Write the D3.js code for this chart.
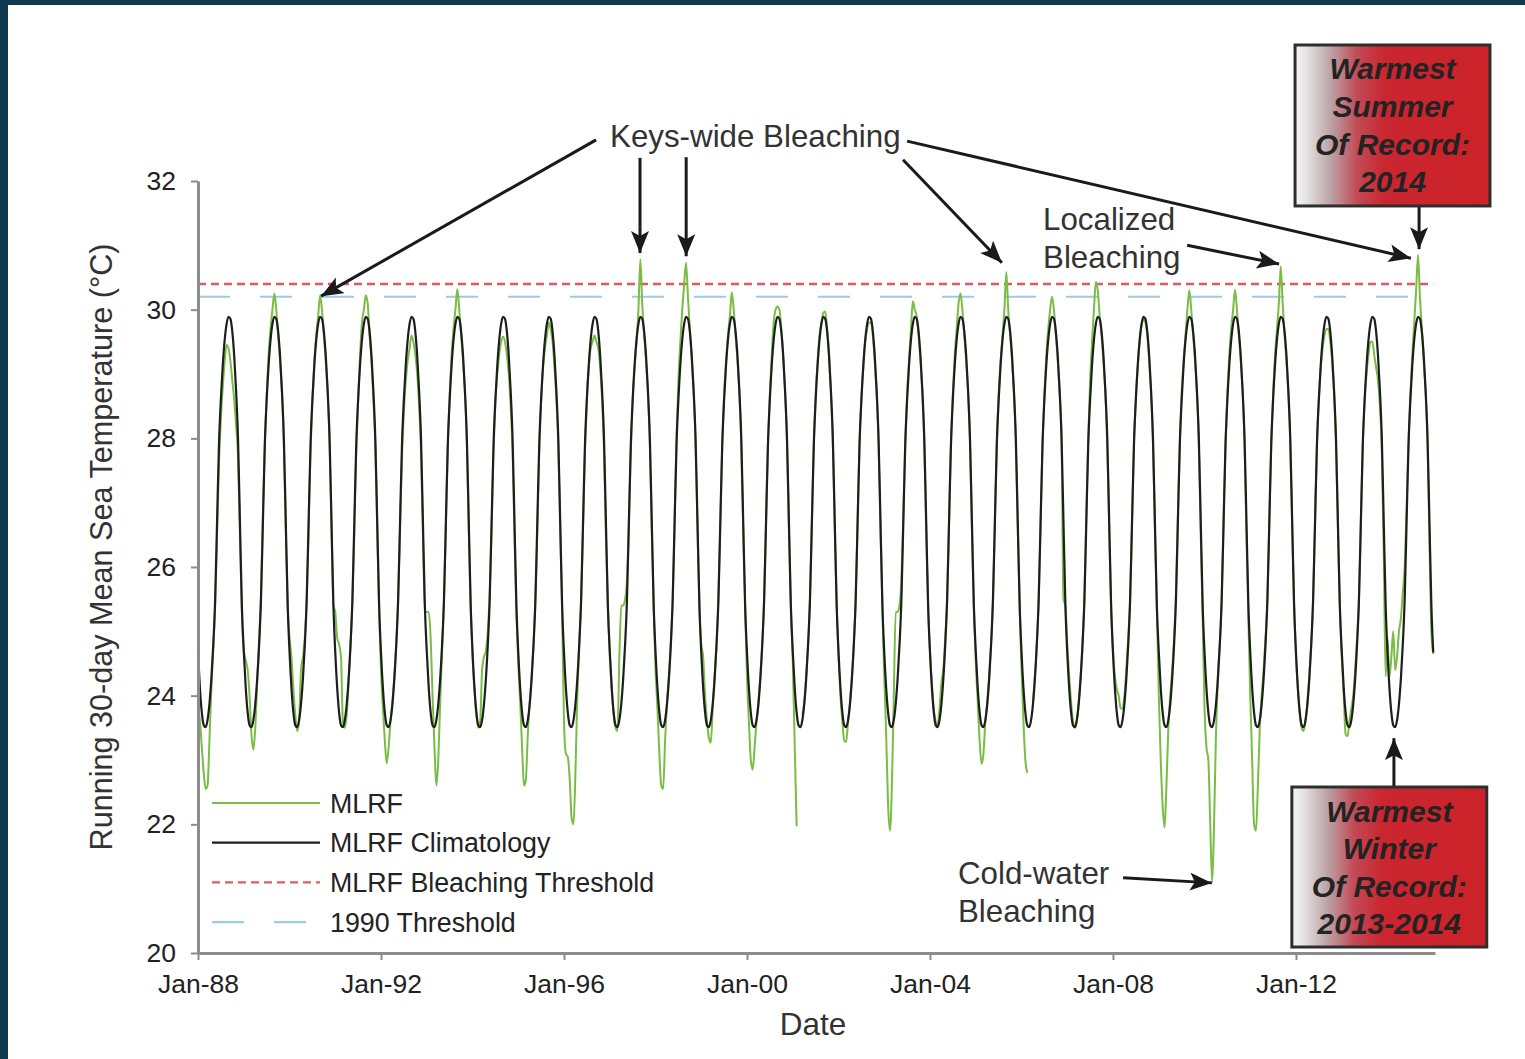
<!DOCTYPE html>
<html>
<head>
<meta charset="utf-8">
<script src="https://cdn.jsdelivr.net/npm/d3@7"></script>
<style>
  html, body { margin: 0; padding: 0; background: #fff; }
  svg { display: block; }
</style>
</head>
<body>
<svg id="chart" width="1525" height="1059"></svg>
<script>
// ---------------------------------------------------------------------------
// Data: running 30-day mean sea temperature (°C), Molasses Reef (MLRF).
// Each year is sampled 24 times (roughly twice a month, starting Jan 1).
// ---------------------------------------------------------------------------
const samplesPerYear = 24;

// Climatological year (repeats every year)
const climatology = [24.67, 24.12, 23.74, 23.54, 23.51, 23.62, 23.87, 24.26, 24.79, 25.50, 26.70, 27.90,
                     28.61, 29.14, 29.53, 29.78, 29.89, 29.86, 29.66, 29.28, 28.73, 27.99, 26.70, 25.41];

// Observed MLRF series, one array per year (null = missing record)
const mlrf1988 = [23.85, 23.6, 23.2, 22.8, 22.55, 22.6, 23.3, 24.1, 24.7, 25.4, 26.5, 27.6, 28.3, 28.8, 29.2, 29.45, 29.4, 29.2, 28.9, 28.6, 28.2, 27.7, 26.5, 25.3];
const mlrf1989 = [24.7, 24.55, 24.4, 24.0, 23.4, 23.16, 23.5, 24.2, 24.8, 25.6, 26.8, 27.9, 28.7, 29.3, 29.7, 30.0, 30.25, 30.0, 29.6, 29.2, 28.7, 27.9, 26.6, 25.4];
const mlrf1990 = [24.9, 24.6, 24.1, 23.7, 23.45, 23.6, 24.4, 24.6, 24.9, 25.5, 26.6, 27.8, 28.6, 29.2, 29.6, 29.9, 30.22, 30.0, 29.6, 29.2, 28.7, 27.9, 26.6, 25.4];
const mlrf1991 = [25.3, 24.9, 24.8, 24.6, 23.6, 23.5, 23.7, 24.2, 24.8, 25.5, 26.6, 27.8, 28.6, 29.3, 29.8, 30.0, 30.22, 30.1, 29.6, 29.2, 28.6, 27.9, 26.6, 25.3];
const mlrf1992 = [24.4, 23.8, 23.3, 22.95, 23.2, 23.6, 23.9, 24.3, 24.8, 25.5, 26.6, 27.7, 28.4, 28.9, 29.2, 29.4, 29.6, 29.5, 29.3, 29.0, 28.5, 27.8, 26.5, 25.3];
const mlrf1993 = [25.3, 25.3, 24.9, 24.0, 23.2, 22.6, 23.0, 23.9, 24.7, 25.5, 26.7, 27.9, 28.7, 29.3, 29.7, 30.0, 30.32, 30.0, 29.6, 29.2, 28.7, 27.9, 26.6, 25.4];
const mlrf1994 = [24.6, 24.1, 23.7, 23.5, 23.6, 24.4, 24.6, 24.7, 25.0, 25.6, 26.6, 27.8, 28.6, 29.0, 29.3, 29.5, 29.58, 29.5, 29.3, 29.0, 28.5, 27.8, 26.5, 25.3];
const mlrf1995 = [24.5, 23.9, 23.2, 22.6, 22.7, 23.4, 23.9, 24.3, 24.8, 25.5, 26.6, 27.8, 28.6, 29.1, 29.4, 29.6, 29.8, 29.7, 29.5, 29.1, 28.6, 27.9, 26.6, 25.3];
const mlrf1996 = [23.6, 23.1, 23.05, 22.7, 22.1, 22.0, 22.8, 24.0, 24.8, 25.5, 26.6, 27.8, 28.6, 29.1, 29.4, 29.5, 29.6, 29.5, 29.4, 29.1, 28.6, 27.8, 26.5, 25.4];
const mlrf1997 = [24.6, 24.1, 23.7, 23.5, 23.45, 24.6, 25.4, 25.4, 25.5, 25.8, 26.7, 27.8, 28.6, 29.1, 29.5, 30.0, 30.78, 30.1, 29.6, 29.2, 28.7, 27.9, 26.6, 25.4];
const mlrf1998 = [24.4, 23.8, 23.1, 22.6, 22.55, 23.3, 23.9, 24.3, 24.8, 25.5, 26.7, 28.0, 28.9, 29.5, 30.0, 30.4, 30.73, 30.2, 29.7, 29.2, 28.7, 27.9, 26.6, 25.4];
const mlrf1999 = [24.8, 24.6, 24.0, 23.6, 23.35, 23.27, 23.8, 24.3, 24.8, 25.5, 26.7, 27.9, 28.7, 29.2, 29.6, 29.9, 30.27, 30.0, 29.6, 29.2, 28.7, 27.9, 26.6, 25.4];
const mlrf2000 = [24.3, 23.6, 23.0, 22.85, 23.2, 23.6, 23.9, 24.3, 24.8, 25.5, 26.7, 27.9, 28.7, 29.3, 29.8, 30.0, 30.05, 30.0, 29.7, 29.3, 28.7, 27.9, 26.6, 25.4];
const mlrf2001 = [24.5, 23.2, 21.97, null, null, 23.7, 23.9, 24.3, 24.8, 25.5, 26.7, 27.9, 28.7, 29.2, 29.6, 29.8, 29.95, 29.97, 29.7, 29.3, 28.7, 27.9, 26.6, 25.4];
const mlrf2002 = [24.6, 24.0, 23.6, 23.3, 23.28, 23.6, 23.9, 24.3, 24.8, 25.5, 26.7, 27.9, 28.6, 29.1, 29.5, 29.7, 29.8, 29.8, 29.6, 29.2, 28.7, 27.9, 26.6, 25.4];
const mlrf2003 = [24.3, 23.4, 22.3, 21.9, 22.6, 24.0, 25.3, 25.3, 25.4, 25.8, 26.8, 27.9, 28.7, 29.2, 29.7, 30.13, 30.0, 29.9, 29.6, 29.2, 28.7, 27.9, 26.6, 25.4];
const mlrf2004 = [24.7, 24.2, 23.8, 23.6, 23.55, 23.8, 24.2, 24.4, 24.9, 25.5, 26.7, 27.9, 28.7, 29.3, 29.7, 30.1, 30.25, 30.0, 29.6, 29.2, 28.7, 27.9, 26.6, 25.4];
const mlrf2005 = [24.5, 23.9, 23.3, 22.94, 23.1, 23.6, 23.9, 24.3, 24.8, 25.5, 26.7, 27.9, 28.7, 29.2, 29.6, 30.0, 30.58, 30.0, 29.6, 29.2, 28.7, 27.9, 26.6, 25.4];
const mlrf2006 = [24.4, 23.6, 23.0, 22.8, null, null, 23.9, 24.3, 24.8, 25.5, 26.7, 27.9, 28.7, 29.3, 29.7, 30.0, 30.2, 30.0, 29.6, 29.2, 28.7, 28.0, 25.5, 25.4];
const mlrf2007 = [24.8, 24.3, 23.9, 23.6, 23.5, 23.6, 23.9, 24.3, 24.8, 25.5, 26.8, 28.0, 28.9, 29.5, 30.0, 30.43, 30.3, 29.9, 29.6, 29.2, 28.7, 27.9, 26.6, 25.4];
const mlrf2008 = [24.7, 24.3, 24.1, 24.0, 23.8, 23.8, 24.0, 24.4, 24.9, 25.5, 26.7, 27.9, 28.6, 29.1, 29.5, 29.75, 29.85, 29.8, 29.6, 29.2, 28.7, 27.9, 26.6, 25.4];
const mlrf2009 = [24.0, 23.0, 22.3, 21.95, 22.6, 23.5, 24.0, 24.4, 24.9, 25.6, 26.8, 27.9, 28.7, 29.2, 29.6, 30.0, 30.3, 30.0, 29.6, 29.2, 28.7, 27.9, 26.5, 25.2];
const mlrf2010 = [23.8, 23.2, 23.0, 22.0, 21.1, 22.0, 23.4, 24.3, 24.8, 25.5, 26.7, 27.9, 28.7, 29.3, 29.7, 30.0, 30.31, 30.0, 29.6, 29.2, 28.7, 27.9, 26.5, 25.2];
const mlrf2011 = [24.0, 23.0, 22.0, 21.9, 22.6, 23.5, 24.0, 24.4, 24.9, 25.5, 26.7, 27.9, 28.7, 29.3, 29.7, 30.1, 30.67, 30.1, 29.6, 29.2, 28.7, 27.9, 26.6, 25.4];
const mlrf2012 = [24.6, 24.1, 23.7, 23.5, 23.45, 23.6, 23.9, 24.3, 24.8, 25.5, 26.7, 27.9, 28.6, 29.1, 29.4, 29.6, 29.7, 29.7, 29.5, 29.2, 28.7, 27.9, 26.6, 25.4];
const mlrf2013 = [24.6, 24.0, 23.4, 23.37, 23.6, 23.8, 24.0, 24.4, 24.9, 25.5, 26.7, 27.9, 28.6, 29.0, 29.3, 29.5, 29.5, 29.3, 29.1, 28.9, 28.5, 27.8, 26.2, 24.3];
const mlrf2014 = [24.9, 24.3, 24.6, 25.0, 24.4, 24.6, 25.0, 25.2, 25.6, 26.0, 26.9, 27.9, 28.7, 29.3, 29.8, 30.3, 30.85, 30.2, 29.7, 29.2, 28.7, 27.9, 26.4, 25.0];
const mlrf2015 = [24.65];

const mlrfYears = [
  [1988, mlrf1988], [1989, mlrf1989], [1990, mlrf1990], [1991, mlrf1991], [1992, mlrf1992],
  [1993, mlrf1993], [1994, mlrf1994], [1995, mlrf1995], [1996, mlrf1996], [1997, mlrf1997],
  [1998, mlrf1998], [1999, mlrf1999], [2000, mlrf2000], [2001, mlrf2001], [2002, mlrf2002],
  [2003, mlrf2003], [2004, mlrf2004], [2005, mlrf2005], [2006, mlrf2006], [2007, mlrf2007],
  [2008, mlrf2008], [2009, mlrf2009], [2010, mlrf2010], [2011, mlrf2011], [2012, mlrf2012],
  [2013, mlrf2013], [2014, mlrf2014], [2015, mlrf2015]
];

const bleachingThreshold = 30.4;   // MLRF bleaching threshold
const threshold1990 = 30.2;        // 1990 threshold

const yTicks = [20, 22, 24, 26, 28, 30, 32];
const xTickYears = [1988, 1992, 1996, 2000, 2004, 2008, 2012];
const xTickLabels = ["Jan-88", "Jan-92", "Jan-96", "Jan-00", "Jan-04", "Jan-08", "Jan-12"];

const legendItems = ["MLRF", "MLRF Climatology", "MLRF Bleaching Threshold", "1990 Threshold"];

// ---------------------------------------------------------------------------
// Helpers
// ---------------------------------------------------------------------------
function sampleDate(year, i) {
  const start = new Date(year, 0, 1).getTime();
  return new Date(start + i * (365.25 / samplesPerYear) * 864e5);
}
function fracYear(yf) {
  const y = Math.floor(yf);
  const a = new Date(y, 0, 1).getTime(), b = new Date(y + 1, 0, 1).getTime();
  return new Date(a + (yf - y) * (b - a));
}

// ---------------------------------------------------------------------------
// Layout
// ---------------------------------------------------------------------------
const svg = d3.select("#chart");
const W = 1525, H = 1059;
const plot = { left: 198, right: 1435, top: 181, bottom: 953 };
const FONT = "'Liberation Sans', Arial, Helvetica, sans-serif";

const x = d3.scaleTime()
  .domain([new Date(1988, 0, 1), new Date(2015, 0, 15)])
  .range([plot.left, plot.right]);
const y = d3.scaleLinear().domain([20, 32]).range([plot.bottom, plot.top]);

// page frame
svg.append("rect").attr("width", W).attr("height", H).attr("fill", "#ffffff");
svg.append("rect").attr("x", 0).attr("y", 0).attr("width", W).attr("height", 5).attr("fill", "#0e3a4f");
svg.append("rect").attr("x", 0).attr("y", 0).attr("width", 8).attr("height", H).attr("fill", "#0e3a4f");

// ---------------------------------------------------------------------------
// Series
// ---------------------------------------------------------------------------
const mlrfPoints = [];
mlrfYears.forEach(([yr, vals]) => vals.forEach((v, i) => mlrfPoints.push({ date: sampleDate(yr, i), value: v })));

const climPoints = [];
for (let yr = 1988; yr <= 2014; yr++) {
  climatology.forEach((v, i) => climPoints.push({ date: sampleDate(yr, i), value: v }));
}
climPoints.push({ date: sampleDate(2015, 0), value: climatology[0] });

const line = d3.line()
  .defined(d => d.value != null)
  .x(d => x(d.date))
  .y(d => y(d.value))
  .curve(d3.curveMonotoneX);

// thresholds
const tStart = new Date(1988, 0, 1), tEnd = new Date(2015, 0, 1);
svg.append("line")
  .attr("x1", x(tStart)).attr("x2", x(tEnd))
  .attr("y1", y(threshold1990)).attr("y2", y(threshold1990))
  .attr("stroke", "#9cc9ef").attr("stroke-width", 2)
  .attr("stroke-dasharray", "32 30");
svg.append("line")
  .attr("x1", x(tStart)).attr("x2", x(tEnd))
  .attr("y1", y(bleachingThreshold)).attr("y2", y(bleachingThreshold))
  .attr("stroke", "#e05a5f").attr("stroke-width", 2.4)
  .attr("stroke-dasharray", "8 5");

svg.append("path").datum(mlrfPoints)
  .attr("d", line).attr("fill", "none")
  .attr("stroke", "#79bd45").attr("stroke-width", 2)
  .attr("stroke-linejoin", "round");

svg.append("path").datum(climPoints)
  .attr("d", line).attr("fill", "none")
  .attr("stroke", "#1e1e1e").attr("stroke-width", 2.2)
  .attr("stroke-linejoin", "round");

// ---------------------------------------------------------------------------
// Axes
// ---------------------------------------------------------------------------
const axisColor = "#8c8c8c";
const yAxis = svg.append("g").attr("transform", `translate(${plot.left},0)`)
  .call(d3.axisLeft(y).tickValues(yTicks).tickFormat(d3.format("d"))
    .tickSize(7).tickSizeOuter(0).tickPadding(15));
const xAxis = svg.append("g").attr("transform", `translate(0,${plot.bottom})`)
  .call(d3.axisBottom(x).tickValues(xTickYears.map(yv => new Date(yv, 0, 1)))
    .tickFormat((d, i) => xTickLabels[i])
    .tickSize(7).tickSizeOuter(0).tickPadding(14));

[yAxis, xAxis].forEach(g => {
  g.select(".domain").attr("stroke", axisColor).attr("stroke-width", 3);
  g.selectAll(".tick line").attr("stroke", axisColor).attr("stroke-width", 2);
  g.selectAll(".tick text").attr("fill", "#222").style("font-family", FONT).style("font-size", "26.5px");
});

svg.append("text")
  .attr("transform", "translate(112,547) rotate(-90)")
  .attr("text-anchor", "middle")
  .style("font-family", FONT).style("font-size", "30.6px").attr("fill", "#333")
  .text("Running 30-day Mean Sea Temperature (°C)");

svg.append("text")
  .attr("x", 813).attr("y", 1035)
  .attr("text-anchor", "middle")
  .style("font-family", FONT).style("font-size", "31.5px").attr("fill", "#333")
  .text("Date");

// ---------------------------------------------------------------------------
// Legend
// ---------------------------------------------------------------------------
const legendStyles = [
  { stroke: "#79bd45", width: 2.2, dash: null },
  { stroke: "#1e1e1e", width: 2.2, dash: null },
  { stroke: "#e05a5f", width: 2.2, dash: "8 5" },
  { stroke: "#9cc9ef", width: 2.2, dash: "32 30" }
];
const legend = svg.append("g").attr("transform", "translate(212,803)");
legendItems.forEach((name, i) => {
  const row = legend.append("g").attr("transform", `translate(0,${i * 39.7})`);
  row.append("line").attr("x1", 0).attr("x2", 108).attr("y1", 0).attr("y2", 0)
    .attr("stroke", legendStyles[i].stroke).attr("stroke-width", legendStyles[i].width)
    .attr("stroke-dasharray", legendStyles[i].dash);
  row.append("text").attr("x", 118).attr("y", 9.5)
    .style("font-family", FONT).style("font-size", "26.8px").attr("fill", "#222")
    .text(name);
});

// ---------------------------------------------------------------------------
// Annotations (positions given in date / temperature space)
// ---------------------------------------------------------------------------
const defs = svg.append("defs");
defs.append("marker")
  .attr("id", "head").attr("markerUnits", "userSpaceOnUse")
  .attr("markerWidth", 24).attr("markerHeight", 20)
  .attr("refX", 22).attr("refY", 9).attr("orient", "auto")
  .append("path").attr("d", "M0,0 L22,9 L0,18 L5,9 Z").attr("fill", "#1a1a1a");

const grad = defs.append("linearGradient").attr("id", "boxFill")
  .attr("x1", "0%").attr("x2", "100%").attr("y1", "0%").attr("y2", "0%");
[[0, "#f6f6f6"], [0.06, "#e4e2e2"], [0.18, "#bca4a7"], [0.32, "#c24a55"], [0.46, "#ca2630"], [1, "#cc2229"]]
  .forEach(([o, c]) => grad.append("stop").attr("offset", o).attr("stop-color", c));

const arrows = [
  { from: [1996.70, 32.64], to: [1990.69, 30.21] },
  { from: [1997.66, 32.36], to: [1997.66, 30.88] },
  { from: [1998.67, 32.37], to: [1998.67, 30.83] },
  { from: [2003.41, 32.33], to: [2005.57, 30.73] },
  { from: [2003.50, 32.62], to: [2014.51, 30.80] },
  { from: [2009.62, 31.00], to: [2011.63, 30.71] },
  { from: [2014.69, 31.60], to: [2014.69, 30.94] },
  { from: [2014.14, 22.58], to: [2014.14, 23.34] },
  { from: [2008.22, 21.17], to: [2010.16, 21.09] }
];
svg.append("g").selectAll("line").data(arrows).join("line")
  .attr("x1", d => x(fracYear(d.from[0]))).attr("y1", d => y(d.from[1]))
  .attr("x2", d => x(fracYear(d.to[0]))).attr("y2", d => y(d.to[1]))
  .attr("stroke", "#1a1a1a").attr("stroke-width", 3)
  .attr("marker-end", "url(#head)");

const notes = [
  { lines: ["Keys-wide Bleaching"], at: [1997.005, 32.53] },
  { lines: ["Localized", "Bleaching"], at: [2006.47, 31.238] },
  { lines: ["Cold-water", "Bleaching"], at: [2004.61, 21.07] }
];
notes.forEach(n => {
  const t = svg.append("text")
    .attr("x", x(fracYear(n.at[0]))).attr("y", y(n.at[1]))
    .style("font-family", FONT).style("font-size", "31.3px").attr("fill", "#333");
  n.lines.forEach((s, i) => t.append("tspan")
    .attr("x", x(fracYear(n.at[0]))).attr("dy", i === 0 ? 0 : 37.5).text(s));
});

const boxes = [
  { lines: ["Warmest", "Summer", "Of Record:", "2014"], x0: 2011.98, x1: 2016.24, top: 34.114, bottom: 31.612 },
  { lines: ["Warmest", "Winter", "Of Record:", "2013-2014"], x0: 2011.91, x1: 2016.17, top: 22.58, bottom: 20.093 }
];
boxes.forEach(b => {
  const bx = x(fracYear(b.x0)), bw = x(fracYear(b.x1)) - bx;
  const by = y(b.top), bh = y(b.bottom) - by;
  svg.append("rect").attr("x", bx).attr("y", by).attr("width", bw).attr("height", bh)
    .attr("fill", "url(#boxFill)").attr("stroke", "#2e2e2e").attr("stroke-width", 3);
  const t = svg.append("text").attr("text-anchor", "middle")
    .style("font-family", FONT).style("font-size", "30px")
    .style("font-weight", "bold").style("font-style", "italic").attr("fill", "#232323");
  b.lines.forEach((s, i) => t.append("tspan")
    .attr("x", bx + bw / 2).attr("y", by + 34.5 + i * 37.6).text(s));
});
</script>
</body>
</html>
